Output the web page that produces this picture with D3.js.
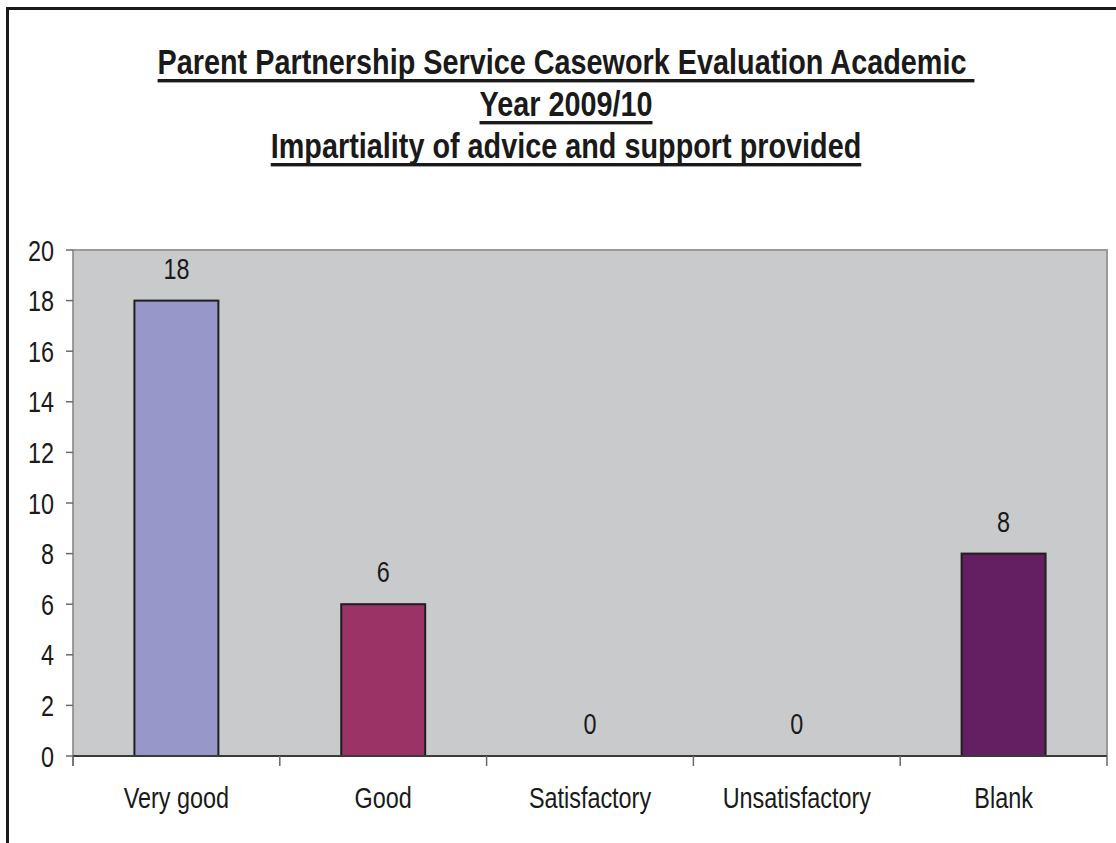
<!DOCTYPE html>
<html>
<head>
<meta charset="utf-8">
<script src="https://cdn.jsdelivr.net/npm/d3@7"></script>
<style>
  html, body { margin: 0; padding: 0; background: #ffffff; }
  svg { display: block; }
  text { font-family: "Liberation Sans", Arial, sans-serif; fill: #1a1a1a; }
</style>
</head>
<body>
<svg id="chart" width="1116" height="843"></svg>
<script>
// Casework evaluation responses, academic year 2009/10
const titleLines = [
  "Parent Partnership Service Casework Evaluation Academic ",
  "Year 2009/10",
  "Impartiality of advice and support provided"
];
const categories = ["Very good", "Good", "Satisfactory", "Unsatisfactory", "Blank"];
const values = [18, 6, 0, 0, 8];
const barColors = ["#9797ca", "#9b3366", "#ffffcc", "#ccffff", "#641f63"];
const yTicks = [0, 2, 4, 6, 8, 10, 12, 14, 16, 18, 20];

const svg = d3.select("#chart");
const W = 1116, H = 843;
const plot = { left: 73, right: 1107, top: 250, bottom: 756 };

// text drawn condensed horizontally
const SX_TITLE = 0.823, SX_TEXT = 0.78;
function squeezedText(g, x, y, str, opts) {
  const t = g.append("text")
    .attr("transform", `translate(${x},${y}) scale(${opts.sx},1)`)
    .attr("text-anchor", opts.anchor || "middle")
    .style("font-size", opts.size + "px")
    .style("font-weight", opts.weight || "normal")
    .text(str);
  return t;
}

// chart frame
svg.append("rect")
  .attr("x", 7.5).attr("y", 8.5)
  .attr("width", W + 20).attr("height", H + 20)
  .attr("fill", "#ffffff")
  .attr("stroke", "#1a1a1a").attr("stroke-width", 3);

// title with underlines
const titleG = svg.append("g");
const titleCx = 566;
const titleBaselines = [74, 116, 158];
titleLines.forEach((line, i) => {
  const t = squeezedText(titleG, titleCx, titleBaselines[i], line,
    { sx: SX_TITLE, size: 35, weight: "bold" });
  t.style("white-space", "pre");
  const w = t.node().getComputedTextLength() * SX_TITLE;
  titleG.append("rect")
    .attr("x", titleCx - w / 2).attr("y", titleBaselines[i] + 5)
    .attr("width", w).attr("height", 3.4)
    .attr("fill", "#1a1a1a");
});

// scales
const y = d3.scaleLinear().domain([0, 20]).range([plot.bottom, plot.top]);
const slot = d3.scaleBand().domain(categories).range([plot.left, plot.right]).padding(0);
const barFrac = 0.406;

// plot area background and border
svg.append("rect")
  .attr("x", plot.left).attr("y", plot.top)
  .attr("width", plot.right - plot.left).attr("height", plot.bottom - plot.top)
  .attr("fill", "#c9cacc");
svg.append("path")
  .attr("d", `M${plot.left},${plot.top}H${plot.right}V${plot.bottom}`)
  .attr("fill", "none").attr("stroke", "#9a9a9c").attr("stroke-width", 2);

// bars
const barsG = svg.append("g");
categories.forEach((c, i) => {
  if (values[i] <= 0) return;
  const bw = slot.bandwidth() * barFrac;
  const bx = slot(c) + (slot.bandwidth() - bw) / 2;
  barsG.append("rect")
    .attr("x", bx).attr("y", y(values[i]))
    .attr("width", bw).attr("height", y(0) - y(values[i]))
    .attr("fill", barColors[i])
    .attr("stroke", "#1f1f1f").attr("stroke-width", 2);
});

// value labels
const labG = svg.append("g");
categories.forEach((c, i) => {
  const cx = slot(c) + slot.bandwidth() / 2;
  squeezedText(labG, cx, y(values[i]) - 22, String(values[i]),
    { sx: SX_TEXT, size: 30 });
});

// y axis
const yAxisG = svg.append("g");
yAxisG.append("line")
  .attr("x1", plot.left).attr("x2", plot.left)
  .attr("y1", plot.top).attr("y2", plot.bottom + 10)
  .attr("stroke", "#808080").attr("stroke-width", 1.5);
yTicks.forEach(v => {
  yAxisG.append("line")
    .attr("x1", plot.left - 7).attr("x2", plot.left)
    .attr("y1", y(v)).attr("y2", y(v))
    .attr("stroke", "#6a6a6a").attr("stroke-width", 1.5);
  squeezedText(yAxisG, 54, y(v) + 10.5, String(v),
    { sx: SX_TEXT, size: 30, anchor: "end" });
});

// x axis
const xAxisG = svg.append("g");
xAxisG.append("line")
  .attr("x1", plot.left).attr("x2", plot.right)
  .attr("y1", plot.bottom).attr("y2", plot.bottom)
  .attr("stroke", "#3a3a3a").attr("stroke-width", 2);
const boundaries = categories.map(c => slot(c)).concat([plot.right]);
boundaries.forEach(bx => {
  xAxisG.append("line")
    .attr("x1", bx).attr("x2", bx)
    .attr("y1", plot.bottom).attr("y2", plot.bottom + 10)
    .attr("stroke", "#6a6a6a").attr("stroke-width", 1.5);
});
categories.forEach(c => {
  const cx = slot(c) + slot.bandwidth() / 2;
  squeezedText(xAxisG, cx, 808, c, { sx: SX_TEXT, size: 30 });
});
</script>
</body>
</html>
